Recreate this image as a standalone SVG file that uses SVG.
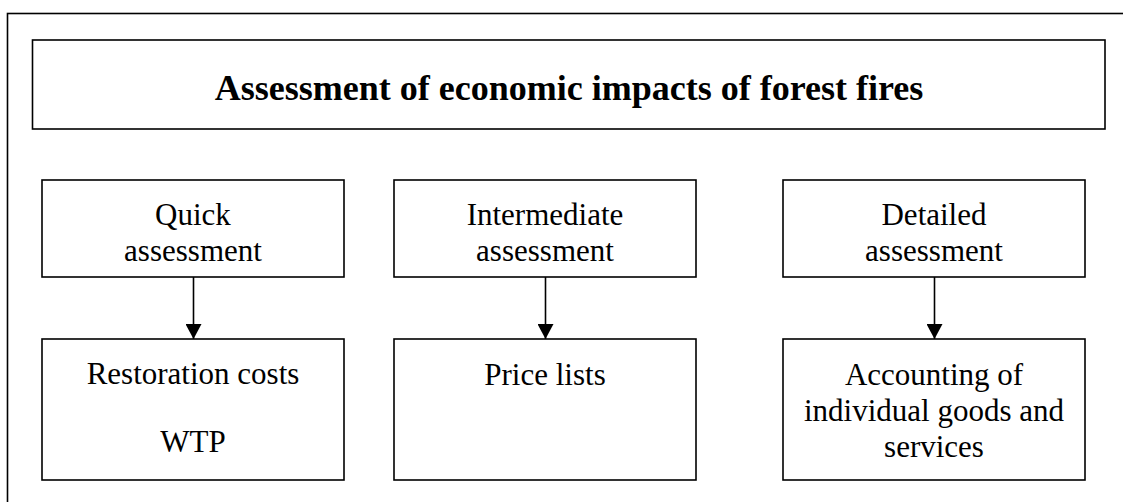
<svg xmlns="http://www.w3.org/2000/svg" width="1123" height="502" viewBox="0 0 1123 502">
  <style>
    .box { fill: #ffffff; stroke: #000000; stroke-width: 1.6; }
    .frame { fill: none; stroke: #000000; stroke-width: 1.6; }
    .lbl { font-family: "Liberation Serif", "Times New Roman", serif; font-size: 31px; fill: #000000; text-anchor: middle; }
    .title { font-family: "Liberation Serif", "Times New Roman", serif; font-size: 36px; font-weight: bold; fill: #000000; text-anchor: middle; }
    .link { stroke: #000000; stroke-width: 1.6; fill: none; marker-end: url(#head); }
  </style>
  <defs>
    <marker id="head" viewBox="0 0 15 16" markerWidth="15" markerHeight="16" refX="15" refY="8" orient="auto" markerUnits="userSpaceOnUse">
      <path d="M0,0 L15,8 L0,16 Z" fill="#000000"/>
    </marker>
  </defs>
  <rect width="1123" height="502" fill="#ffffff"/>

  <!-- outer frame, open to the right and bottom of the page -->
  <rect class="frame" x="7.5" y="13.5" width="1130" height="500"/>

  <g id="title">
    <rect class="box" x="32.5" y="40" width="1072.5" height="89"/>
    <text class="title" x="569" y="100">Assessment of economic impacts of forest fires</text>
  </g>

  <g id="quick">
    <rect class="box" x="42" y="180" width="302" height="97"/>
    <text class="lbl" x="193" y="225">Quick</text>
    <text class="lbl" x="193" y="261">assessment</text>
  </g>
  <g id="intermediate">
    <rect class="box" x="394" y="180" width="302" height="97"/>
    <text class="lbl" x="545" y="225">Intermediate</text>
    <text class="lbl" x="545" y="261">assessment</text>
  </g>
  <g id="detailed">
    <rect class="box" x="783" y="180" width="302" height="97"/>
    <text class="lbl" x="934" y="225">Detailed</text>
    <text class="lbl" x="934" y="261">assessment</text>
  </g>

  <g id="restoration">
    <rect class="box" x="42" y="339" width="302" height="141"/>
    <text class="lbl" x="193" y="384">Restoration costs</text>
    <text class="lbl" x="193" y="452">WTP</text>
  </g>
  <g id="prices">
    <rect class="box" x="394" y="339" width="302" height="141"/>
    <text class="lbl" x="545" y="385">Price lists</text>
  </g>
  <g id="accounting">
    <rect class="box" x="783" y="339" width="302" height="141"/>
    <text class="lbl" x="934" y="385">Accounting of</text>
    <text class="lbl" x="934" y="421">individual goods and</text>
    <text class="lbl" x="934" y="457">services</text>
  </g>

  <g id="connectors">
    <line class="link" x1="193.5" y1="277" x2="193.5" y2="339"/>
    <line class="link" x1="545.5" y1="277" x2="545.5" y2="339"/>
    <line class="link" x1="934.5" y1="277" x2="934.5" y2="339"/>
  </g>
</svg>
